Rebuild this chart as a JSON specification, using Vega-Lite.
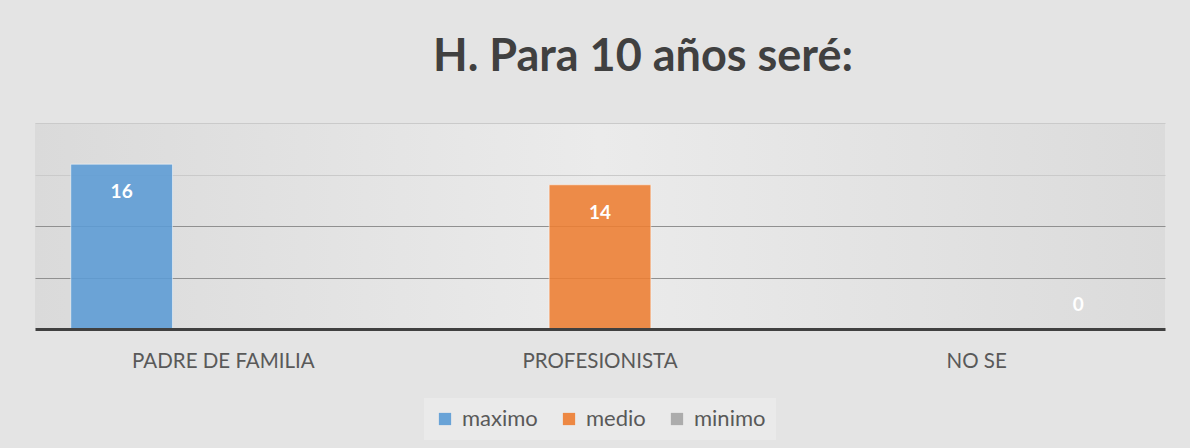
{
  "$schema": "https://vega.github.io/schema/vega-lite/v6.json",
  "autosize": {"type": "none"},
  "width": 1130,
  "height": 206,
  "padding": {"left": 35, "top": 123, "right": 25, "bottom": 119},
  "background": "#e4e4e4",
  "title": {
    "text": "H. Para 10 años seré:",
    "anchor": "middle",
    "dx": 43,
    "offset": 7,
    "baseline": "alphabetic",
    "font": "Lato",
    "fontSize": 45,
    "fontWeight": "bold",
    "color": "#404040"
  },
  "data": {
    "values": [
      {"categoria": "PADRE DE FAMILIA", "serie": "maximo", "valor": 16},
      {"categoria": "PROFESIONISTA", "serie": "medio", "valor": 14},
      {"categoria": "NO SE", "serie": "minimo", "valor": 0}
    ]
  },
  "encoding": {
    "x": {
      "field": "categoria",
      "type": "nominal",
      "sort": ["PADRE DE FAMILIA", "PROFESIONISTA", "NO SE"],
      "scale": {"paddingInner": 0.19, "paddingOuter": 0.095},
      "axis": {
        "title": null,
        "labelAngle": 0,
        "ticks": false,
        "labelLimit": 0,
        "labelFont": "Lato",
        "labelFontSize": 20.5,
        "labelColor": "#595959",
        "labelPadding": 22,
        "domainColor": "#404040",
        "domainWidth": 3,
        "zindex": 1
      }
    },
    "xOffset": {
      "field": "serie",
      "type": "nominal",
      "sort": ["maximo", "medio", "minimo"],
      "scale": {"paddingInner": 0, "paddingOuter": 0}
    },
    "y": {
      "field": "valor",
      "type": "quantitative",
      "scale": {"domain": [0, 20], "nice": false},
      "axis": {
        "title": null,
        "labels": false,
        "ticks": false,
        "domain": false,
        "values": [5, 10, 15, 20],
        "gridColor": {"condition": {"test": "datum.value <= 10", "value": "#909090"}, "value": "#cacaca"},
        "gridWidth": 1.2
      }
    }
  },
  "layer": [
    {
      "mark": {"type": "bar", "fillOpacity": 0.88, "stroke": "#ffffff", "strokeOpacity": 0.5, "strokeWidth": 1},
      "encoding": {
        "color": {
          "field": "serie",
          "type": "nominal",
          "scale": {"domain": ["maximo", "medio", "minimo"], "range": ["#5b9bd5", "#ed7d31", "#a5a5a5"]},
          "legend": {
            "title": null,
            "orient": "none",
            "direction": "horizontal",
            "legendX": 389,
            "legendY": 275,
            "symbolType": "square",
            "symbolSize": 150,
            "symbolStrokeWidth": 0,
            "symbolOpacity": 0.9,
            "labelFont": "Lato",
            "labelFontSize": 22,
            "labelColor": "#595959",
            "columnPadding": 20,
            "labelOffset": 6,
            "padding": 10,
            "fillColor": "#eaeaea"
          }
        }
      }
    },
    {
      "transform": [{"filter": "datum.valor > 0"}],
      "mark": {"type": "text", "color": "#ffffff", "font": "Lato", "fontWeight": "bold", "fontSize": 19, "baseline": "middle", "dy": 28},
      "encoding": {"text": {"field": "valor", "type": "quantitative"}}
    },
    {
      "transform": [{"filter": "datum.valor == 0"}],
      "mark": {"type": "text", "color": "#ffffff", "font": "Lato", "fontWeight": "bold", "fontSize": 19, "baseline": "middle", "dy": -24},
      "encoding": {"text": {"field": "valor", "type": "quantitative"}}
    }
  ],
  "config": {
    "view": {
      "stroke": null,
      "fill": {
        "gradient": "linear",
        "x1": 0, "y1": 0.5,
        "x2": 1, "y2": 0.5,
        "stops": [
          {"offset": 0, "color": "#dadada"},
          {"offset": 0.5, "color": "#ebebeb"},
          {"offset": 1, "color": "#dbdbdb"}
        ]
      }
    }
  }
}
